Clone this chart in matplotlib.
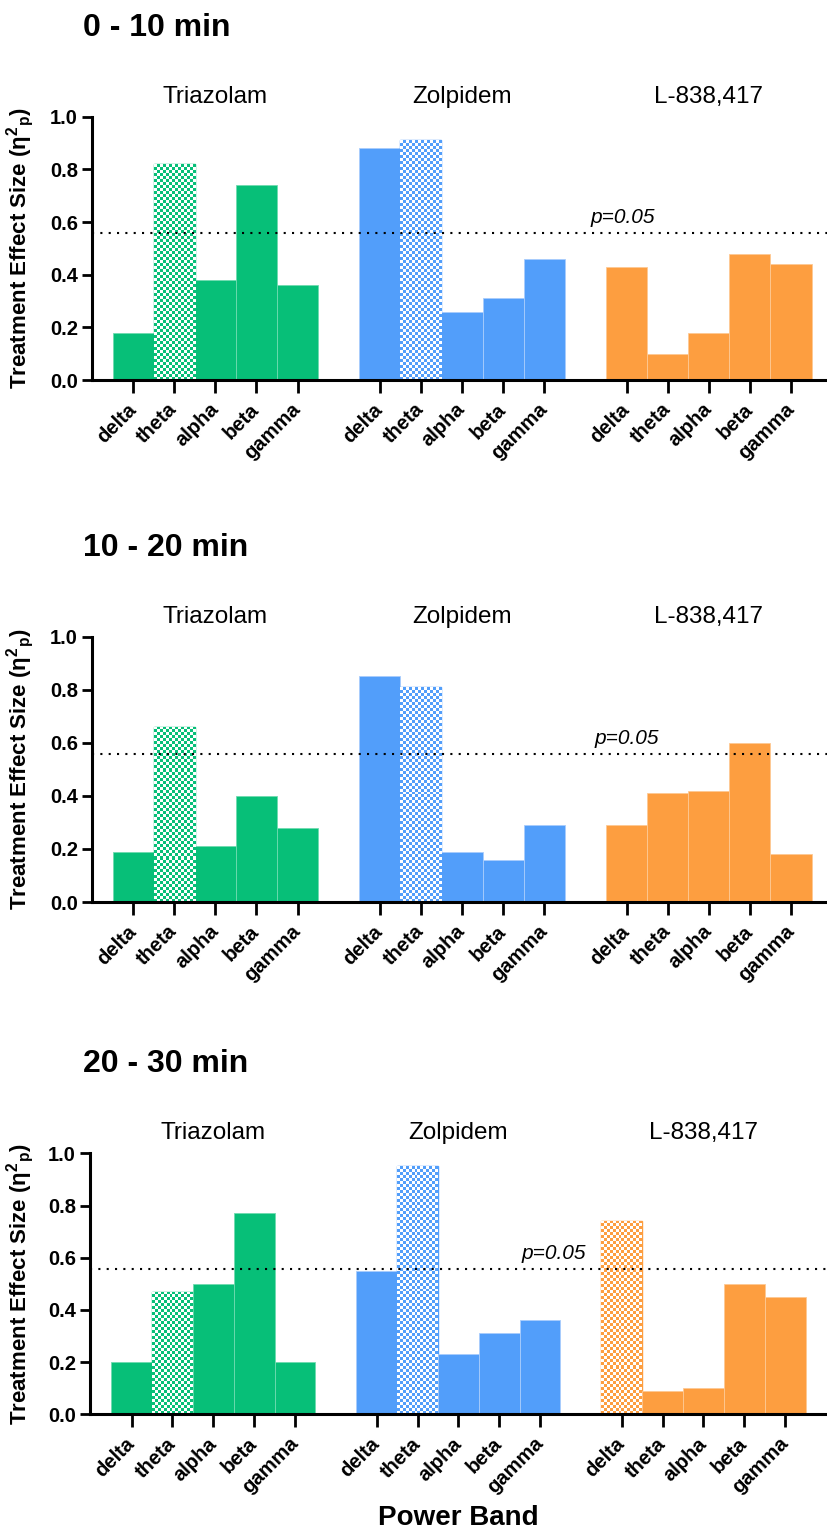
import numpy as np
import matplotlib.pyplot as plt
import matplotlib.transforms as mtransforms
from matplotlib.colors import ListedColormap

plt.rcParams['font.family'] = ['Liberation Sans', 'DejaVu Sans']
plt.rcParams['mathtext.fontset'] = 'custom'
plt.rcParams['mathtext.rm'] = 'Liberation Sans'
plt.rcParams['mathtext.bf'] = 'Liberation Sans:bold'
plt.rcParams['mathtext.default'] = 'bf'

bands = ['delta', 'theta', 'alpha', 'beta', 'gamma']
drugs = ['Triazolam', 'Zolpidem', 'L-838,417']
windows = ['0 - 10 min', '10 - 20 min', '20 - 30 min']

# partial eta squared, one row per drug (delta..gamma)
eta_0_10 = [[0.18, 0.82, 0.38, 0.74, 0.36],
            [0.88, 0.91, 0.26, 0.31, 0.46],
            [0.43, 0.10, 0.18, 0.48, 0.44]]
eta_10_20 = [[0.19, 0.66, 0.21, 0.40, 0.28],
             [0.85, 0.81, 0.19, 0.16, 0.29],
             [0.29, 0.41, 0.42, 0.60, 0.18]]
eta_20_30 = [[0.20, 0.47, 0.50, 0.77, 0.20],
             [0.55, 0.95, 0.23, 0.31, 0.36],
             [0.74, 0.09, 0.10, 0.50, 0.45]]

# checkered bars as (drug, band)
checked_0_10 = [(0, 1), (1, 1)]
checked_10_20 = [(0, 1), (1, 1)]
checked_20_30 = [(0, 1), (1, 1), (2, 0)]

p_crit = 0.557   # effect size at p=0.05

colors = ['#07BF78', '#529EFA', '#FD9E40']
edge_light = ['#6FDBB0', '#A9CCFC', '#FEC994']

panels = [(eta_0_10, checked_0_10), (eta_10_20, checked_10_20), (eta_20_30, checked_20_30)]

W, H = 828, 1533
fig = plt.figure(figsize=(W / 100, H / 100), dpi=100)
shift = mtransforms.ScaledTranslation(4 / 100, -2 / 100, fig.dpi_scale_trans)

# axes boxes in pixels: left, top, bottom ; plus x limits and p-label x
boxes = [(92, 116.7, 380.0, (-1.0, 16.9), 11.92),
         (92, 636.7, 902.0, (-1.0, 16.9), 12.0),
         (90, 1153.3, 1414.3, (-1.02, 17.05), 10.33)]


def checker_bar(ax, x, h, color, px_per_unit):
    # white bar filled with a small checkerboard of the group colour
    bar = ax.bar(x, h, width=1.0, facecolor='white', edgecolor=color, linewidth=1.0)[0]
    ny = max(1, int(round(h * px_per_unit / 3.0)))
    board = np.indices((ny, 14)).sum(axis=0) % 2
    im = ax.imshow(board, cmap=ListedColormap(['white', color]), aspect='auto',
                   interpolation='nearest', extent=(x - 0.5, x + 0.5, 0, h), zorder=2)
    im.set_clip_path(bar)


for k, (eta, checked) in enumerate(panels):
    left, top, bottom, xl, px = boxes[k]
    ax = fig.add_axes([left / W, 1 - bottom / H, (W - left) / W, (bottom - top) / H])

    ticks = []
    for d in range(3):
        pos = np.arange(5) + d * 6
        ticks += list(pos)
        for b in range(5):
            if (d, b) in checked:
                checker_bar(ax, pos[b], eta[d][b], colors[d], bottom - top)
            else:
                ax.bar(pos[b], eta[d][b], width=1.0, color=colors[d],
                       edgecolor=edge_light[d], linewidth=0.6)
        ax.text(pos[2], 1.076, drugs[d], ha='center', va='center',
                fontsize=17.5, clip_on=False)

    ax.axhline(p_crit, color='black', linestyle=(0, (1, 3)), linewidth=1.5, zorder=3)
    ax.text(px, 0.618, 'p=0.05', style='italic', fontsize=15, ha='center', va='center')

    ax.set_xlim(*xl)
    ax.set_ylim(0, 1)
    ax.set_yticks(np.arange(0, 1.01, 0.2))
    ax.set_yticklabels(['%.1f' % v for v in np.arange(0, 1.01, 0.2)],
                       fontsize=14.5, fontweight='bold')
    ax.set_xticks(ticks)
    ax.set_xticklabels(bands * 3, rotation=45, ha='right', va='center',
                       rotation_mode='anchor', fontsize=14.5, fontweight='bold')
    for lab in ax.get_xticklabels():
        lab.set_transform(lab.get_transform() + shift)
    ax.tick_params(axis='y', length=7, width=2, pad=3)
    ax.tick_params(axis='x', length=9, width=2, pad=10)
    for s in ['top', 'right']:
        ax.spines[s].set_visible(False)
    for s in ['left', 'bottom']:
        ax.spines[s].set_linewidth(2.2)

    ax.set_ylabel(r'Treatment Effect Size ($\eta^{2}{}_{p}$)', fontsize=16,
                  fontweight='bold')
    ax.yaxis.set_label_coords((36 - left) / (W - left), 0.5)

    fig.text(83 / W, 1 - (top - 89) / H, windows[k], fontsize=23,
             fontweight='bold', ha='left', va='center')

fig.text(458 / W, 1 - 1518 / H, 'Power Band', fontsize=20, fontweight='bold',
         ha='center', va='center')

fig.savefig('out.png', dpi=100)
